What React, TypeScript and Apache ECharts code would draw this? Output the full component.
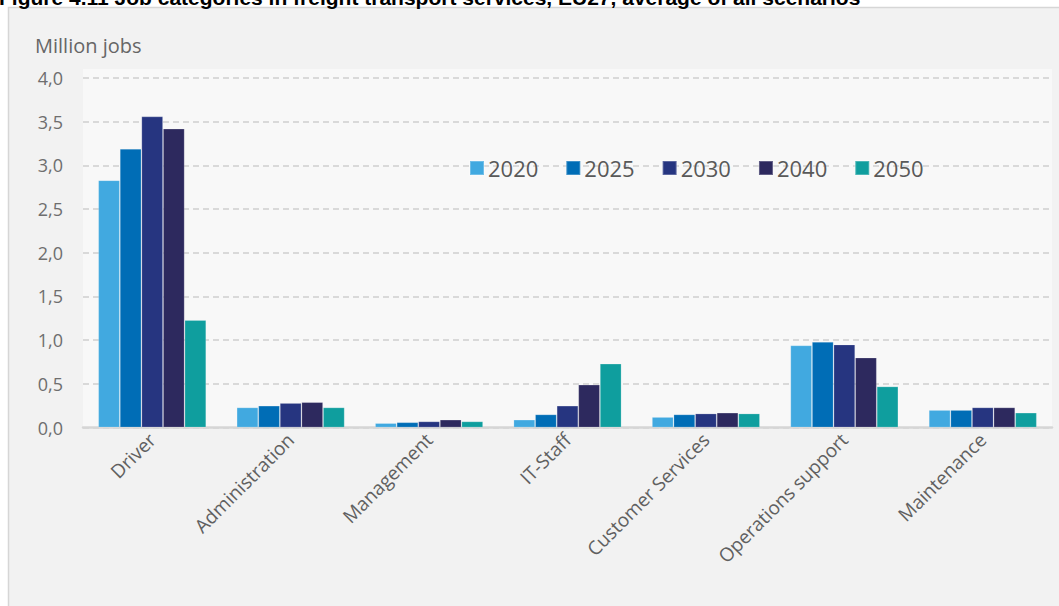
import React, { useEffect, useRef } from "react";
import * as echarts from "echarts";

const categories = [
  "Driver",
  "Administration",
  "Management",
  "IT-Staff",
  "Customer Services",
  "Operations support",
  "Maintenance",
];
const seriesNames = ["2020", "2025", "2030", "2040", "2050"];
const v2020 = [2.83, 0.23, 0.05, 0.09, 0.12, 0.94, 0.2];
const v2025 = [3.19, 0.25, 0.06, 0.15, 0.15, 0.98, 0.2];
const v2030 = [3.56, 0.28, 0.07, 0.25, 0.16, 0.95, 0.23];
const v2040 = [3.42, 0.29, 0.09, 0.49, 0.17, 0.8, 0.23];
const v2050 = [1.23, 0.23, 0.07, 0.73, 0.16, 0.47, 0.17];
const colors = ["#41a9e0", "#006db6", "#263580", "#2d295e", "#0f9e9e"];
const yTicks = [0, 0.5, 1, 1.5, 2, 2.5, 3, 3.5, 4];

const FONT = "'Open Sans', sans-serif";

export default function App() {
  const ref = useRef<HTMLDivElement>(null);
  useEffect(() => {
    if (!ref.current) return;
    const chart = echarts.init(ref.current, null, { renderer: "svg" });
    const values = [v2020, v2025, v2030, v2040, v2050];
    chart.setOption({
      animation: false,
      backgroundColor: "#ffffff",
      graphic: [
        {
          type: "rect",
          z: -10,
          shape: { x: 8.5, y: 7.5, width: 1070, height: 620 },
          style: { fill: "#f2f2f2", stroke: "#d6d6d6", lineWidth: 1.5 },
        },
        {
          type: "rect",
          z: -9,
          shape: { x: 83, y: 69, width: 969, height: 359 },
          style: { fill: "#f8f8f8" },
        },
        {
          type: "text",
          x: -1,
          y: -13,
          style: {
            text: "Figure 4.11 Job categories in freight transport services, EU27, average of all scenarios",
            font: "bold 21px 'Liberation Sans', Arial, sans-serif",
            fill: "#000000",
          },
        },
        {
          type: "text",
          x: 35,
          y: 35,
          style: {
            text: "Million jobs",
            font: "20px " + FONT,
            fill: "#666666",
          },
        },
      ],
      legend: {
        data: seriesNames,
        left: 464,
        top: 152,
        itemWidth: 14,
        itemHeight: 14,
        itemGap: 27,
        icon: "rect",
        textStyle: { fontSize: 22, color: "#595959", fontFamily: FONT, padding: [0, 0, 0, -1] },
      },
      grid: { left: 83, right: 7, top: 78, bottom: 178.5, containLabel: false },
      xAxis: {
        type: "category",
        data: categories,
        axisLine: { lineStyle: { color: "#d6d6d6", width: 2.5 } },
        axisTick: { show: false },
        axisLabel: {
          rotate: 45,
          margin: 9,
          fontSize: 19,
          color: "#606060",
          fontFamily: FONT,
        },
      },
      yAxis: {
        type: "value",
        min: 0,
        max: 4,
        interval: 0.5,
        axisLine: { show: false },
        axisTick: { show: false },
        splitLine: { lineStyle: { color: "#d9d9d9", width: 2, type: [6, 4] } },
        axisLabel: {
          margin: 20,
          fontSize: 18,
          color: "#6e6e6e",
          fontFamily: FONT,
          formatter: (v: number) =>
            yTicks.includes(v) ? v.toFixed(1).replace(".", ",") : "",
        },
      },
      series: seriesNames.map((name, i) => ({
        name,
        type: "bar",
        data: values[i],
        barGap: "0%",
        barCategoryGap: "22%",
        itemStyle: { color: colors[i], borderColor: "rgba(255,255,255,0.25)", borderWidth: 0.8 },
      })),
    });
    return () => chart.dispose();
  }, []);
  return (
    <div
      ref={ref}
      style={{ position: "fixed", left: 0, top: 0, width: 1059, height: 606 }}
    />
  );
}
